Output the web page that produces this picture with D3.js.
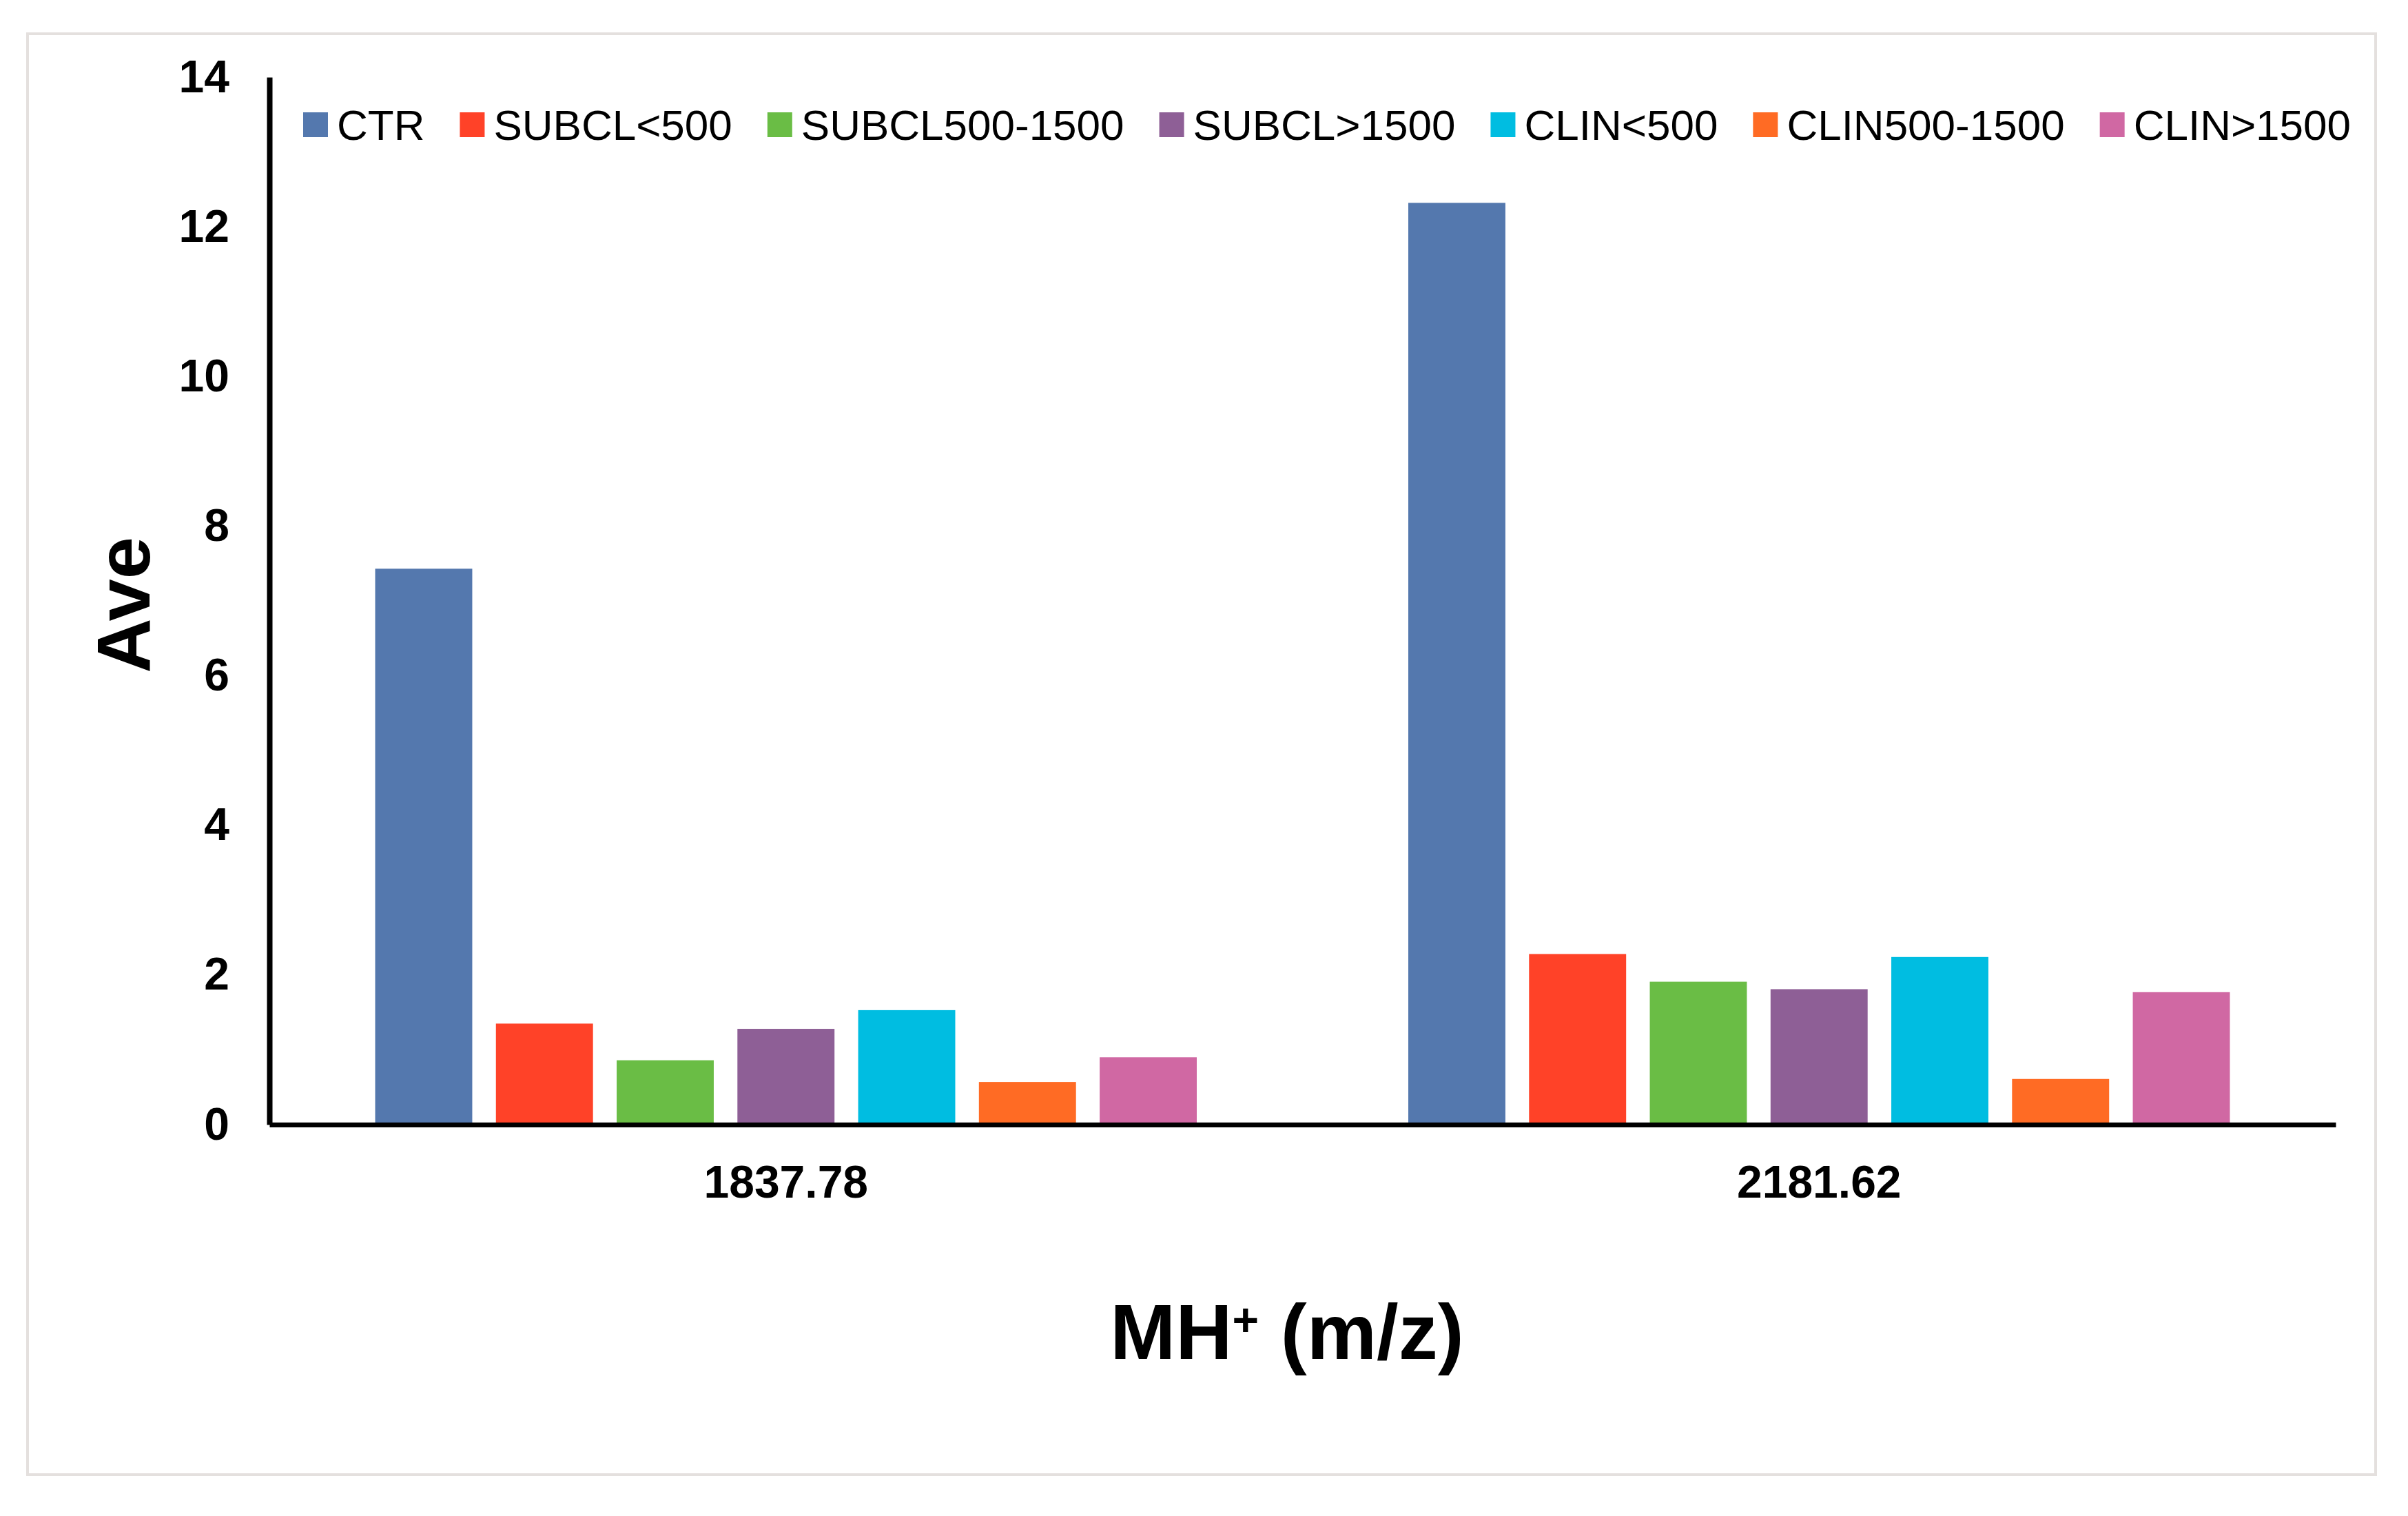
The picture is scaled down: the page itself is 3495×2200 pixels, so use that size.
<!DOCTYPE html>
<html>
<head>
<meta charset="utf-8">
<script src="https://cdn.jsdelivr.net/npm/d3@7"></script>
<style>
  html, body { margin: 0; padding: 0; background: #ffffff; }
  svg { display: block; }
  text { font-family: "Liberation Sans", Arial, sans-serif; fill: #000; }
</style>
</head>
<body>
<svg id="chart" width="3495" height="2200"></svg>
<script>
// ---- data ----
const categories = ["1837.78", "2181.62"];
const seriesNames = ["CTR", "SUBCL<500", "SUBCL500-1500", "SUBCL>1500", "CLIN<500", "CLIN500-1500", "CLIN>1500"];
const seriesColors = ["#5478AE", "#FF4228", "#6ABD45", "#8E5F96", "#00BDE1", "#FF6B24", "#D068A3"];
const valuesCTR        = [7.43, 12.32];
const valuesSUBCL500   = [1.35, 2.28];
const valuesSUBCL1500  = [0.86, 1.91];
const valuesSUBCLgt    = [1.28, 1.81];
const valuesCLIN500    = [1.53, 2.24];
const valuesCLIN1500   = [0.57, 0.61];
const valuesCLINgt     = [0.90, 1.77];
const yTicks = [0, 2, 4, 6, 8, 10, 12, 14];

const seriesValues = [valuesCTR, valuesSUBCL500, valuesSUBCL1500, valuesSUBCLgt, valuesCLIN500, valuesCLIN1500, valuesCLINgt];

// ---- layout ----
const svg = d3.select("#chart");
const plotLeft = 391, plotRight = 3390, plotTop = 112, plotBottom = 1632;

// frame
svg.append("rect")
  .attr("x", 40).attr("y", 49).attr("width", 3408).attr("height", 2091)
  .attr("fill", "#ffffff").attr("stroke", "#e4e0de").attr("stroke-width", 4);

const x0 = d3.scaleBand().domain(categories).range([plotLeft, plotRight]).paddingInner(0).paddingOuter(0);
const x1 = d3.scaleBand().domain(seriesNames).range([0, x0.bandwidth()]).paddingInner(0.196).paddingOuter(0.876);
const y = d3.scaleLinear().domain([0, 14]).range([plotBottom, plotTop]);
const color = d3.scaleOrdinal().domain(seriesNames).range(seriesColors);

// bars
const groups = svg.append("g").selectAll("g")
  .data(categories)
  .join("g")
  .attr("transform", d => `translate(${x0(d)},0)`);

groups.selectAll("rect")
  .data((d, ci) => seriesNames.map((s, si) => ({ series: s, value: seriesValues[si][ci] })))
  .join("rect")
  .attr("x", d => x1(d.series))
  .attr("width", x1.bandwidth())
  .attr("y", d => y(d.value))
  .attr("height", d => y(0) - y(d.value))
  .attr("fill", d => color(d.series));

// y axis
const yAxis = svg.append("g")
  .attr("transform", `translate(${plotLeft},0)`)
  .call(d3.axisLeft(y).tickValues(yTicks).tickSize(0).tickSizeOuter(0).tickPadding(58));
yAxis.select(".domain").attr("stroke", "#000").attr("stroke-width", 8);
yAxis.selectAll("text")
  .style("font-size", "66px").style("font-weight", "bold")
  .attr("font-family", null);

// x axis
const xAxis = svg.append("g")
  .attr("transform", `translate(0,${plotBottom})`)
  .call(d3.axisBottom(x0).tickSize(0).tickSizeOuter(0));
xAxis.select(".domain").attr("stroke", "#000").attr("stroke-width", 7);
xAxis.selectAll("text")
  .attr("y", 106).attr("dy", null)
  .style("font-size", "66px").style("font-weight", "bold");

// y title
svg.append("text")
  .attr("transform", "translate(217,878) rotate(-90)")
  .attr("text-anchor", "middle")
  .style("font-size", "110px").style("font-weight", "bold")
  .text("Ave");

// x title
const xt = svg.append("text")
  .attr("x", 1868).attr("y", 1972)
  .attr("text-anchor", "middle")
  .style("font-size", "114px").style("font-weight", "bold");
xt.append("tspan").text("MH");
xt.append("tspan").attr("dy", -34).style("font-size", "66px").text("+");
xt.append("tspan").attr("dy", 34).text(" (m/z)");

// legend
const legend = svg.append("g");
let lx = 440;
seriesNames.forEach((name) => {
  const g = legend.append("g");
  g.append("rect")
    .attr("x", lx).attr("y", 163).attr("width", 36).attr("height", 36)
    .attr("fill", color(name));
  const t = g.append("text")
    .attr("x", lx + 49).attr("y", 203)
    .style("font-size", "62px")
    .text(name);
  lx = lx + 49 + t.node().getComputedTextLength() + 51;
});
</script>
</body>
</html>
